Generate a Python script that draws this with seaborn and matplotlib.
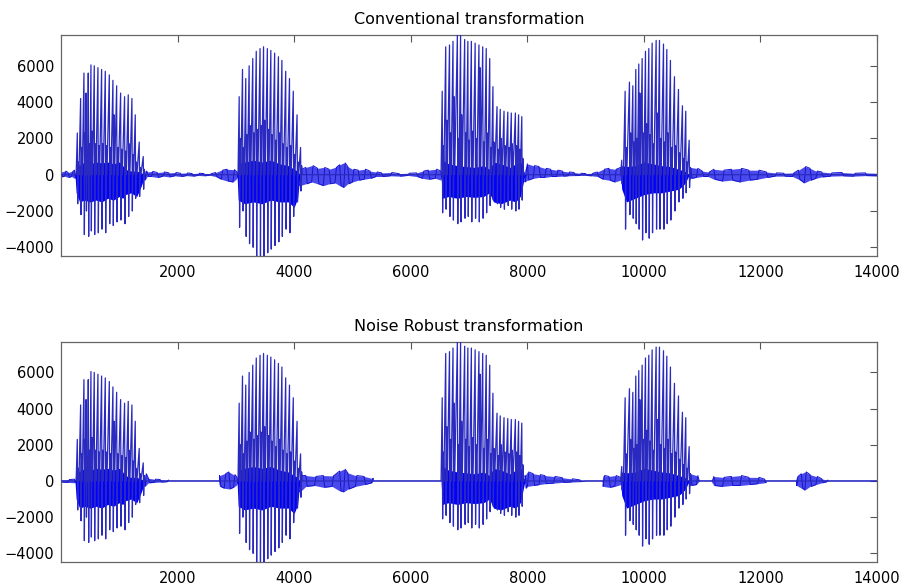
import numpy as np
import pandas as pd
import matplotlib
matplotlib.use("Agg")
import matplotlib.pyplot as plt
import seaborn as sns

# ---------------- data ----------------
titles = ["Conventional transformation", "Noise Robust transformation"]
x_ticks = [2000, 4000, 6000, 8000, 10000, 12000, 14000]
y_ticks = [-4000, -2000, 0, 2000, 4000, 6000]
x_range = [1, 14000]
y_range = [-4480, 7700]

# glottal pulses: sample index, positive peak, negative peak, secondary peak
b1_x = [280, 337, 394, 430, 468, 514, 571, 634, 697, 760, 829, 891, 955, 1023, 1091, 1154, 1217, 1274, 1342, 1411]
b1_pos = [2300, 4200, 5600, 4500, 5600, 6050, 6000, 5900, 5800, 5700, 5500, 5200, 4900, 4500, 4300, 4400, 4200, 3300, 1800, 1000]
b1_neg = [-1600, -2200, -3300, -2000, -3400, -3100, -3300, -3200, -3000, -3200, -2700, -2800, -2600, -2500, -2700, -2300, -2000, -1300, -1200, -800]
b1_sec = [700, 1500, 2300, 1300, 1700, 2400, 1700, 1600, 1700, 1600, 1500, 3300, 1500, 1400, 1300, 1700, 1100, 700, 400, 300]

b2_x = [3057, 3114, 3170, 3228, 3290, 3350, 3415, 3475, 3540, 3600, 3665, 3730, 3790, 3855, 3920, 3985, 4050, 4110]
b2_pos = [4300, 5800, 5300, 6000, 6400, 6800, 6950, 7050, 6950, 6850, 6700, 6500, 6300, 5700, 5300, 4600, 3300, 1500]
b2_neg = [-2900, -2000, -3400, -3800, -4000, -4500, -4500, -4500, -4300, -4100, -3900, -3700, -3400, -3000, -3200, -2300, -1500, -900]
b2_sec = [2000, 1500, 2200, 2700, 2300, 2500, 2700, 3000, 2500, 2200, 1900, 2300, 1700, 1500, 1600, 1100, 700, 500]

b3_x = [6540, 6600, 6665, 6725, 6800, 6855, 6925, 6980, 7040, 7105, 7170, 7235, 7295, 7355, 7410, 7480, 7535, 7600, 7665, 7725, 7795, 7850, 7905]
b3_pos = [4600, 7050, 7150, 7350, 7750, 7700, 7450, 7350, 7350, 7250, 7150, 7050, 6950, 6400, 4850, 3750, 3600, 3500, 3450, 3400, 3400, 3300, 3200]
b3_neg = [-2100, -1900, -2300, -2500, -2700, -2600, -2400, -2300, -2600, -2400, -2600, -2400, -2100, -1700, -1400, -1600, -1800, -1900, -1700, -1900, -2000, -1900, -1400]
b3_sec = [1600, 3000, 2300, 4300, 2000, 3300, 2300, 1900, 2400, 2000, 5900, 1800, 2300, 1500, 1800, 1400, 2000, 1600, 1500, 1700, 1600, 1400, 900]

b4_x = [9620, 9678, 9752, 9810, 9861, 9912, 9970, 10027, 10084, 10141, 10210, 10267, 10336, 10393, 10455, 10524, 10593, 10661, 10718, 10776]
b4_pos = [800, 4600, 5100, 4900, 5800, 6100, 6400, 6800, 6950, 7250, 7400, 7400, 7200, 6900, 6300, 5400, 4700, 3800, 3500, 1900]
b4_neg = [-500, -3000, -2200, -2400, -2700, -3000, -3600, -3200, -3500, -3200, -3000, -3000, -3000, -2700, -2500, -2000, -1500, -1300, -1000, -700]
b4_sec = [400, 1500, 2300, 1800, 2000, 4500, 2300, 2800, 2200, 1700, 3400, 2000, 1800, 2300, 1500, 1600, 1200, 900, 700, 400]

# dense voiced band (shared by both panels): sample, upper edge, lower edge
band_x = [240, 260, 320, 400, 500, 600, 700, 800, 900, 1000, 1060, 1100, 1200, 1300, 1380, 1440,
          3020, 3040, 3150, 3300, 3450, 3600, 3750, 3900, 4000, 4060, 4100,
          6520, 6540, 6650, 6800, 6950, 7100, 7250, 7350, 7420, 7550, 7700, 7800, 7880, 7960,
          9600, 9620, 9700, 9850, 10000, 10150, 10300, 10450, 10600, 10700, 10780]
band_hi = [0, 600, 500, 700, 600, 700, 650, 700, 600, 700, 500, 300, 200, 200, 100, 0,
           0, 600, 700, 800, 700, 800, 600, 500, 300, 200, 0,
           0, 800, 600, 500, 450, 400, 500, 300, 700, 600, 400, 600, 800, 0,
           0, 500, 450, 500, 700, 600, 500, 450, 300, 200, 0]
band_lo = [0, -1000, -1500, -1400, -1500, -1400, -1500, -1300, -1400, -1200, -1300, -1100, -1000, -1200, -600, 0,
           0, -1400, -1600, -1500, -1600, -1400, -1500, -1500, -1800, -1300, 0,
           0, -1300, -1200, -1300, -1200, -1250, -1200, -1000, -1500, -1600, -1400, -1500, -1200, 0,
           0, -800, -1500, -1300, -1100, -1000, -1000, -900, -800, -500, 0]

# background noise, conventional transformation (zero inside the voiced bursts)
top_noise_x = [1, 60, 120, 180, 230, 236, 1435, 1440, 1480, 1550, 1650, 1750, 1850, 1950, 2050, 2150, 2250, 2350,
               2450, 2550, 2650, 2750, 2850, 2950, 3020, 3025, 4095, 4100, 4200, 4300, 4400, 4500, 4600, 4700,
               4780, 4850, 4920, 5000, 5100, 5200, 5300, 5400, 5500, 5650, 5800, 5950, 6100, 6200, 6300, 6420,
               6520, 6525, 7955, 7960, 8000, 8100, 8200, 8300, 8400, 8500, 8600, 8700, 8800, 8900, 9000, 9100,
               9200, 9300, 9400, 9500, 9600, 9605, 10775, 10780, 10800, 10900, 11000, 11100, 11200, 11350, 11500,
               11650, 11800, 11950, 12100, 12250, 12400, 12550, 12650, 12750, 12850, 12950, 13050, 13200, 13400,
               13600, 13800, 14000]
top_noise_hi = [150, 200, 120, 180, 250, 0, 0, 200, 150, 180, 120, 150, 100, 120, 80, 100, 60, 80,
                60, 50, 120, 250, 300, 280, 150, 0, 0, 300, 400, 500, 350, 400, 300, 400,
                550, 650, 450, 300, 250, 300, 200, 150, 100, 120, 60, 80, 100, 200, 250, 300,
                200, 0, 0, 300, 600, 500, 450, 350, 300, 250, 200, 150, 120, 80, 60, 80,
                150, 300, 350, 300, 400, 0, 0, 300, 400, 350, 200, 150, 300, 250, 300,
                350, 250, 250, 150, 100, 80, 100, 250, 450, 350, 200, 150, 100, 120,
                80, 100, 80]
top_noise_lo = [-120, -80, -150, -100, -200, 0, 0, -300, -100, -100, -150, -80, -120, -60, -100, -50, -80, -40,
                -60, -30, -100, -250, -350, -400, -200, 0, 0, -600, -500, -400, -500, -600, -500, -450,
                -600, -700, -500, -400, -300, -250, -200, -100, -100, -60, -80, -40, -100, -200, -250, -200,
                -300, 0, 0, -400, -300, -200, -150, -150, -100, -100, -80, -60, -50, -40, -40, -60,
                -100, -250, -300, -400, -300, 0, 0, -300, -200, -150, -100, -100, -250, -350, -300,
                -400, -300, -250, -150, -80, -80, -100, -250, -450, -300, -200, -120, -80, -60,
                -80, -50, -60]

# background noise, noise robust transformation (zero inside the voiced bursts)
bot_noise_x = [1, 120, 230, 236, 1435, 1440, 1500, 1600, 1700, 1820, 1830, 2700, 2720, 2800, 2880, 2960, 3020,
               3025, 4095, 4100, 4200, 4350, 4500, 4650, 4780, 4850, 4920, 5050, 5200, 5330, 5350,
               7955, 7960, 8000, 8100, 8200, 8300, 8450, 8600, 8750, 8900, 9000, 9280, 9300, 9400, 9500, 9600,
               9605, 10775, 10780, 10800, 10900, 10950, 11150, 11200, 11350, 11500, 11650, 11800, 11950, 12070,
               12080, 12600, 12620, 12700, 12760, 12850, 12950, 13050, 13130, 13140, 14000]
bot_noise_hi = [60, 80, 100, 0, 0, 400, 150, 100, 80, 50, 0, 0, 300, 400, 500, 350, 200,
                0, 0, 300, 300, 250, 300, 280, 550, 650, 450, 300, 250, 150, 0,
                0, 300, 500, 400, 350, 300, 250, 180, 120, 60, 0, 0, 300, 250, 300, 200,
                0, 0, 300, 400, 300, 0, 0, 250, 200, 250, 300, 200, 200, 100,
                0, 0, 250, 400, 500, 350, 250, 120, 50, 0, 0]
bot_noise_lo = [-60, -80, -100, 0, 0, -300, -100, -80, -60, -40, 0, 0, -300, -400, -440, -350, -200,
                0, 0, -600, -300, -250, -350, -300, -550, -600, -450, -300, -200, -100, 0,
                0, -400, -300, -250, -200, -150, -120, -80, -60, -40, 0, 0, -300, -350, -300, -200,
                0, 0, -300, -250, -200, 0, 0, -250, -300, -250, -250, -200, -150, -100,
                0, 0, -250, -400, -500, -300, -200, -100, -50, 0, 0]

# ---------------- build the waveform paths ----------------
bursts = [(b1_x, b1_pos, b1_neg, b1_sec), (b2_x, b2_pos, b2_neg, b2_sec),
          (b3_x, b3_pos, b3_neg, b3_sec), (b4_x, b4_pos, b4_neg, b4_sec)]

xs, ys = [x_range[0]], [0]
for bx, bp, bn, bs in bursts:
    xs.append(bx[0] - 20); ys.append(0)
    for x, p, n, s in zip(bx, bp, bn, bs):
        xs += [x, x + 7, x + 18, x + 28]
        ys += [p, n, s, 0]
    xs.append(bx[-1] + 45); ys.append(0)
xs.append(x_range[1]); ys.append(0)
wave = pd.DataFrame({"sample": xs, "amplitude": ys})


def noise_path(nx, nh, nl):
    # alternate between upper and lower envelope at each knot -> jagged trace
    px, py = [], []
    for i, (x, h, l) in enumerate(zip(nx, nh, nl)):
        px += [x, x + 25]
        py += [h, l] if i % 2 == 0 else [l, h]
    return pd.DataFrame({"sample": px, "amplitude": py})


# ---------------- figure ----------------
sns.set_theme(style="white")
plt.rcParams["font.family"] = ["DejaVu Sans"]

fig = plt.figure(figsize=(9.03, 5.85), dpi=100)
ax_top = fig.add_axes([0.0676, 0.5624, 0.9037, 0.3778])
ax_bot = fig.add_axes([0.0676, 0.0393, 0.9037, 0.3766])

noise_sets = [(top_noise_x, top_noise_hi, top_noise_lo), (bot_noise_x, bot_noise_hi, bot_noise_lo)]
for ax, title, (nx, nh, nl) in zip([ax_top, ax_bot], titles, noise_sets):
    ax.fill_between(nx, nl, nh, color="#2a2ae8", alpha=0.85, lw=0, zorder=2)
    sns.lineplot(data=noise_path(nx, nh, nl), x="sample", y="amplitude", sort=False,
                 estimator=None, ax=ax, color="#1515d0", lw=0.7, zorder=2.5)
    ax.fill_between(band_x, band_lo, band_hi, color="#0000ff", lw=0, zorder=3)
    sns.lineplot(data=wave, x="sample", y="amplitude", sort=False, estimator=None,
                 ax=ax, color="#2a2ac0", lw=0.9, zorder=4)
    ax.set_xlim(*x_range)
    ax.set_ylim(*y_range)
    ax.set_xticks(x_ticks)
    ax.set_yticks(y_ticks)
    ax.set_xlabel("")
    ax.set_ylabel("")
    ax.set_title(title, fontsize=11.5, pad=8, color="black")
    ax.tick_params(direction="in", top=True, right=True, length=5, width=0.8,
                   color="#555555", labelsize=10.5, labelcolor="black")
    ax.tick_params(axis="y", pad=5)
    ax.tick_params(axis="x", pad=6.5)
    for sp in ax.spines.values():
        sp.set_visible(True)
        sp.set_color("#666666")
        sp.set_linewidth(0.9)

fig.savefig("out.png", dpi=100)
